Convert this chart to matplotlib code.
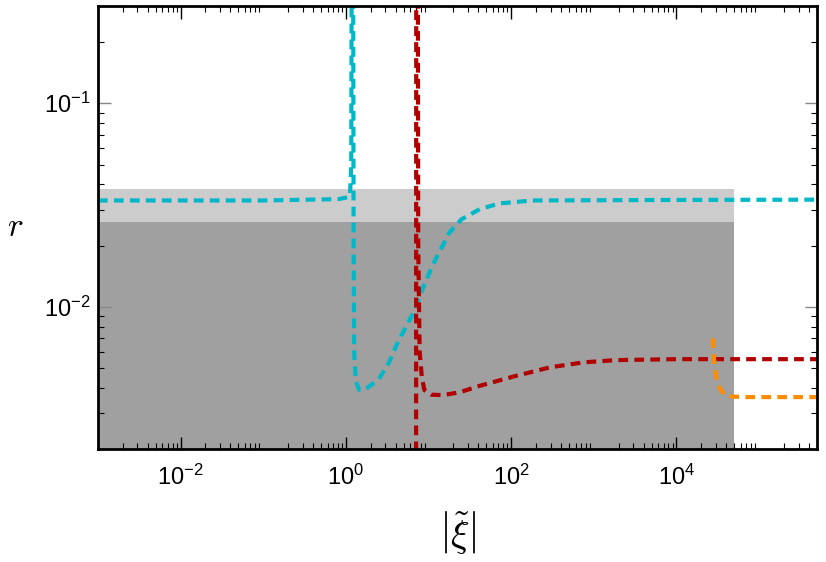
import numpy as np
import matplotlib
matplotlib.use('Agg')
import matplotlib.pyplot as plt
from matplotlib.ticker import FixedLocator, LogLocator, NullFormatter

# ============ Data ============================================

# cyan branch: flat, pole near |xi|~1.2, dip, back up to plateau
cyan_x = [1e-3, 1e-1, 0.8, 1.05, 1.12, 1.16, 1.18, 1.22, 1.24, 1.26, 1.32, 1.45,
          1.67, 2.5, 3.3, 4.4, 6.8, 7.8, 11.1, 17.8, 25.0, 41.7, 72.0, 182.0, 1e4, 5e5]
cyan_y = [0.0333, 0.0333, 0.0338, 0.0345, 0.035, 0.05, 1.0, 1.0, 0.02, 0.006, 0.0043, 0.0039,
          0.0039, 0.0044, 0.0053, 0.0069, 0.0096, 0.0113, 0.0159, 0.0231, 0.0269, 0.0302,
          0.0322, 0.0333, 0.0335, 0.0336]

# dark red branch: pole near |xi|~7, then slow rise to plateau
red_x = [7.05, 7.1, 7.4, 7.5, 7.8, 8.3, 8.9, 10.7, 14.9, 23.7, 41.7, 115.0,
         295.0, 741.0, 1862.0, 1e4, 5e5]
red_y = [1e-4, 1.0, 1.0, 0.02, 0.006, 0.0045, 0.0039, 0.0037, 0.00368, 0.0038, 0.00409,
         0.00458, 0.00504, 0.00533, 0.00547, 0.00553, 0.00553]

# orange branch: starts near |xi|~3e4
orange_x = [2.75e4, 2.85e4, 3.0e4, 3.3e4, 3.8e4, 4.8e4, 7e4, 5e5]
orange_y = [0.0070, 0.0055, 0.0046, 0.0040, 0.0037, 0.00362, 0.0036, 0.0036]

# excluded bands
band_x = [1e-3, 5e4]
band_light = 0.038
band_dark = 0.026

xlim = (1e-3, 5e5)
ylim = (2e-3, 0.3)

# ===========================================

plt.rcParams['font.family'] = ['Liberation Sans', 'DejaVu Sans']
plt.rcParams['mathtext.fontset'] = 'cm'
plt.rcParams['lines.scale_dashes'] = False

fig = plt.figure(figsize=(8.26, 5.62), dpi=100)
ax1 = fig.add_axes([0.1186, 0.201, 0.8704, 0.788])

ax1.set_xscale('log')
ax1.set_yscale('log')

### Shaded regions.
ax1.fill_between(band_x, 1e-4, band_light, color='#cccccc', lw=0, zorder=1)
ax1.fill_between(band_x, 1e-4, band_dark, color='#a0a0a0', lw=0, zorder=1)

### Curves.
dash = (7, 4.5)
ax1.plot(cyan_x, cyan_y, color='#00b8c8', lw=3.0, dashes=dash, zorder=3)
ax1.plot(red_x, red_y, color='#b00000', lw=3.0, dashes=dash, zorder=3)
ax1.plot(orange_x, orange_y, color='#ff8c00', lw=3.0, dashes=dash, zorder=3)

ax1.set_xlim(*xlim)
ax1.set_ylim(*ylim)

### Ticks.
ax1.xaxis.set_major_locator(FixedLocator([1e-2, 1e0, 1e2, 1e4]))
ax1.xaxis.set_minor_locator(LogLocator(base=10, subs=np.arange(2, 10), numticks=50))
ax1.yaxis.set_major_locator(FixedLocator([1e-2, 1e-1]))
ax1.yaxis.set_minor_locator(LogLocator(base=10, subs=np.arange(2, 10), numticks=50))
ax1.xaxis.set_minor_formatter(NullFormatter())
ax1.yaxis.set_minor_formatter(NullFormatter())

ax1.tick_params(which='both', direction='in', top=True, right=True, labelsize=17)
ax1.tick_params(which='major', length=9, width=1.0)
ax1.tick_params(which='minor', length=4, width=0.8)
ax1.tick_params(axis='x', which='major', pad=11)
ax1.tick_params(axis='y', which='major', pad=5, color='#888888')

for sp in ax1.spines.values():
    sp.set_linewidth(2.0)
    sp.set_zorder(5)

### Labels.
ax1.set_xlabel(r'$\left|\tilde{\xi}\right|$', fontsize=28)
ax1.xaxis.set_label_coords(0.5, -0.135)
ax1.set_ylabel(r'$r$', fontsize=24, rotation=0, va='center')
ax1.yaxis.set_label_coords(-0.115, 0.5)

plt.savefig('out.png', dpi=100)
